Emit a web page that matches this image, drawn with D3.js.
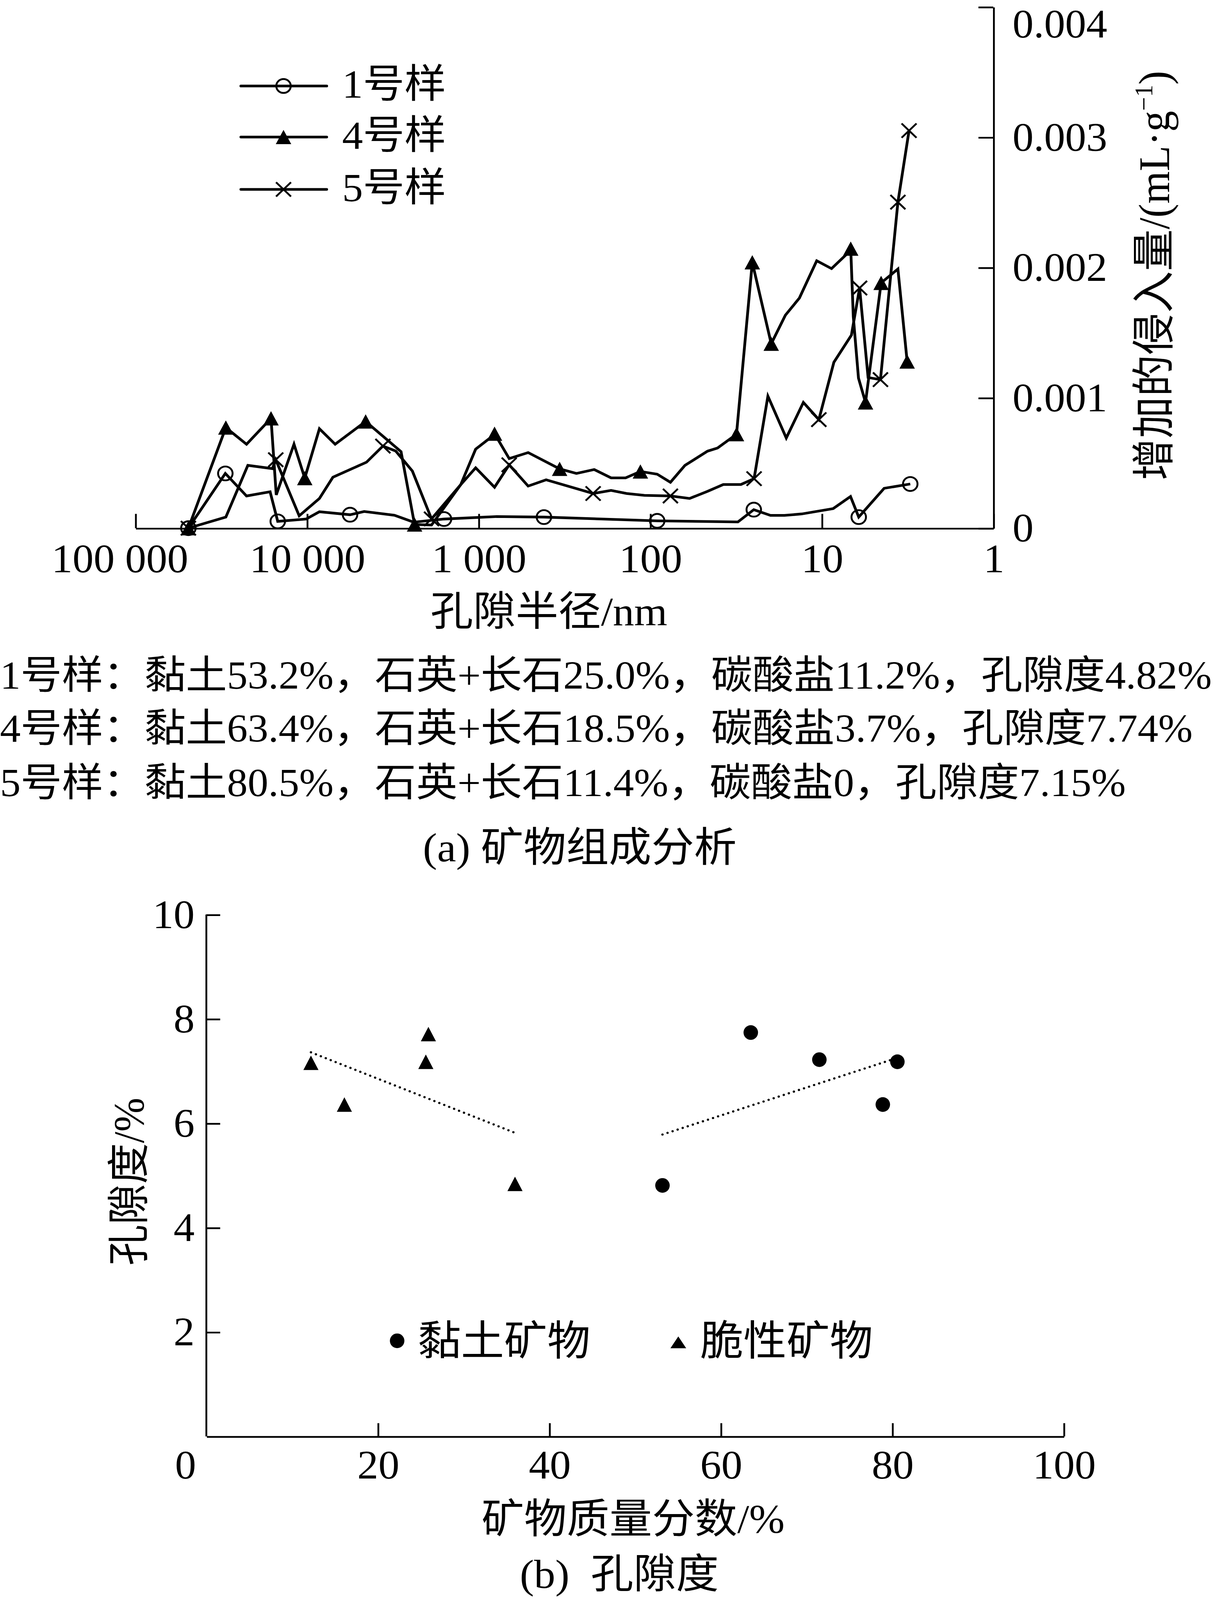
<!DOCTYPE html>
<html>
<head>
<meta charset="utf-8">
<script src="https://cdn.jsdelivr.net/npm/d3@7"></script>
<style>
  html, body { margin: 0; padding: 0; background: #fff; overflow: hidden; }
  #chart svg { display: block; width: 100vw; height: 100vh; }
  svg text { font-family: "Liberation Serif", "Noto Sans CJK SC", serif; fill: #000; }
</style>
</head>
<body>
<div id="chart"></div>
<script>
// (a) incremental intrusion vs pore radius
const sampleNames = ["1号样", "4号样", "5号样"];

const s1Radius = [49100, 29900, 22500, 16400, 14800, 10100, 8460, 5610, 4640, 3090, 2390, 1590, 784, 416, 91,
  30.8, 24.9, 19.9, 16.5, 13.1, 8.58, 6.80, 6.09, 4.33, 3.05];
const s1Value = [0, 0.00042, 0.000247, 0.000279, 0.000052, 0.00007, 0.000126, 0.000103, 0.000128, 0.000099,
  0.000046, 0.00007, 0.000089, 0.000085, 0.000056, 0.000048, 0.000142, 0.000098, 0.000098, 0.000109,
  0.00015, 0.000243, 0.000085, 0.000306, 0.000339];
const s1Marks = [0, 1, 4, 7, 11, 13, 14, 16, 22, 24];

const s4Radius = [49100, 29700, 22500, 16200, 15100, 11900, 10300, 8460, 6850, 4550, 2830, 2360, 1880, 1270,
  1040, 857, 807, 663, 514, 337, 269, 212, 169, 139, 114, 91, 76.2, 62.7, 46.3, 40.5, 31.4, 25.4, 19.7,
  16.3, 13.5, 10.7, 8.77, 7.25, 6.78, 6.55, 6.11, 5.56, 4.51, 3.60, 3.18];
const s4Value = [0, 0.000772, 0.000644, 0.000843, 0.000255, 0.000644, 0.000384, 0.000763, 0.000644, 0.000819,
  0.000587, 0.000028, 0.000024, 0.000334, 0.000606, 0.000692, 0.000725, 0.000534, 0.00058, 0.000455,
  0.00042, 0.00045, 0.000386, 0.000386, 0.000435, 0.000414, 0.000352, 0.000482, 0.000591, 0.000615,
  0.000721, 0.00204, 0.001415, 0.001634, 0.001766, 0.002052, 0.001992, 0.002096, 0.002145, 0.001623,
  0.001152, 0.000965, 0.001882, 0.001989, 0.001279];
const s4Marks = [0, 1, 3, 6, 9, 11, 16, 19, 24, 30, 31, 32, 38, 41, 42, 44];

const s5Radius = [49100, 29700, 22100, 15900, 15200, 11100, 8460, 7060, 4500, 3610, 3040, 2430, 1880, 1270,
  1040, 807, 663, 514, 404, 215, 169, 137, 108, 76.2, 58.9, 46.2, 37.5, 29.6, 24.8, 20.6, 16.1, 12.8,
  10.4, 8.50, 6.72, 6.02, 5.37, 4.55, 3.60, 3.10];
const s5Value = [0, 0.000085, 0.000482, 0.000457, 0.000525, 0.000095, 0.000228, 0.000391, 0.000506, 0.00063,
  0.000592, 0.000438, 0.000071, 0.000334, 0.000463, 0.000314, 0.000486, 0.000323, 0.000371, 0.000266,
  0.00029, 0.000266, 0.000252, 0.000247, 0.000228, 0.000283, 0.000335, 0.000335, 0.00038, 0.001013,
  0.000692, 0.000965, 0.000833, 0.001273, 0.001481, 0.001843, 0.001156, 0.00114, 0.002502, 0.003051];
const s5Marks = [0, 4, 9, 12, 16, 19, 23, 28, 32, 35, 37, 38, 39];

const radiusTicks = [100000, 10000, 1000, 100, 10, 1];
const radiusTickLabels = ["100 000", "10 000", "1 000", "100", "10", "1"];
const intrusionTicks = [0, 0.001, 0.002, 0.003, 0.004];
const intrusionTickLabels = ["0", "0.001", "0.002", "0.003", "0.004"];

const sampleNotes = [
  "1号样：黏土53.2%，石英+长石25.0%，碳酸盐11.2%，孔隙度4.82%",
  "4号样：黏土63.4%，石英+长石18.5%，碳酸盐3.7%，孔隙度7.74%",
  "5号样：黏土80.5%，石英+长石11.4%，碳酸盐0，孔隙度7.15%"
];

// (b) porosity vs mineral mass fraction
const clayFrac = [63.5, 71.5, 80.6, 78.9, 53.2];
const clayPoro = [7.74, 7.22, 7.18, 6.36, 4.81];
const brittleFrac = [25.9, 25.6, 12.2, 16.1, 36.0];
const brittlePoro = [7.71, 7.18, 7.16, 6.36, 4.84];
const fracTicks = [0, 20, 40, 60, 80, 100];
const poroTicks = [2, 4, 6, 8, 10];
const mineralNames = ["黏土矿物", "脆性矿物"];

// ---------------------------------------------------------------
const W = 1139, H = 1568;
const svg = d3.select("#chart").append("svg")
  .attr("viewBox", `0 0 ${W} ${H}`)
  .attr("preserveAspectRatio", "none");

const TICK_FS = 39.5;
const LINE_W = 2.6;

function tri(cx, cy, w, h) {
  return `M${cx},${cy - h / 2}L${cx + w / 2},${cy + h / 2}L${cx - w / 2},${cy + h / 2}Z`;
}

function marker(g, shape, cx, cy) {
  if (shape === "circle") {
    g.append("circle").attr("cx", cx).attr("cy", cy).attr("r", 6.8)
      .attr("fill", "none").attr("stroke", "#000").attr("stroke-width", 1.8);
  } else if (shape === "triangle") {
    g.append("path").attr("d", tri(cx, cy, 14.5, 14)).attr("fill", "#000");
  } else {
    const s = 7;
    g.append("path")
      .attr("d", `M${cx - s},${cy - s}L${cx + s},${cy + s}M${cx - s},${cy + s}L${cx + s},${cy - s}`)
      .attr("stroke", "#000").attr("stroke-width", 1.8);
  }
}

// ---------------- chart (a) ----------------
const x = d3.scaleLog().domain([1e5, 1]).range([127, 932]);
const y = d3.scaleLinear().domain([0, 0.004]).range([517.6, 6.8]);

const gx = svg.append("g")
  .attr("transform", `translate(0,${y(0)})`)
  .call(d3.axisBottom(x).tickValues(radiusTicks)
    .tickFormat((d, i) => radiusTickLabels[i])
    .tickSizeInner(-14).tickSizeOuter(0).tickPadding(15))
  .attr("font-size", TICK_FS).attr("stroke-width", 1.7);
gx.selectAll(".tick text").filter((d, i) => i === 0).attr("dx", -15);

const gy = svg.append("g")
  .attr("transform", `translate(${x(1)},0)`)
  .call(d3.axisRight(y).tickValues(intrusionTicks)
    .tickFormat((d, i) => intrusionTickLabels[i])
    .tickSizeInner(-14).tickSizeOuter(0).tickPadding(18))
  .attr("font-size", TICK_FS).attr("stroke-width", 1.7);
// keep the top label inside the page
gy.selectAll(".tick text").filter(d => d === 0.004).attr("y", 17);

const samples = [
  { radius: s1Radius, value: s1Value, marks: s1Marks, shape: "circle" },
  { radius: s4Radius, value: s4Value, marks: s4Marks, shape: "triangle" },
  { radius: s5Radius, value: s5Value, marks: s5Marks, shape: "cross" }
];

const line = d3.line().x(d => x(d[0])).y(d => y(d[1]));
const plot = svg.append("g");
samples.forEach(s => {
  const pts = s.radius.map((r, i) => [r, s.value[i]]);
  plot.append("path").attr("d", line(pts))
    .attr("fill", "none").attr("stroke", "#000").attr("stroke-width", LINE_W)
    .attr("stroke-linejoin", "miter");
  s.marks.forEach(i => marker(plot, s.shape, x(pts[i][0]), y(pts[i][1])));
});

// legend
const legendRowY = [84.3, 134.3, 185.6];
samples.forEach((s, i) => {
  const ly = legendRowY[i];
  svg.append("line").attr("x1", 226).attr("x2", 306.5).attr("y1", ly).attr("y2", ly)
    .attr("stroke", "#000").attr("stroke-width", LINE_W).attr("stroke-linecap", "round");
  marker(svg, s.shape, 266, ly);
  svg.append("text").attr("x", 321).attr("y", ly + 11.5)
    .attr("font-size", 39).text(sampleNames[i]);
});

svg.append("text").attr("x", 515).attr("y", 613)
  .attr("text-anchor", "middle").attr("font-size", 40).text("孔隙半径/nm");

const yTitle = svg.append("text")
  .attr("transform", "translate(1097,270) rotate(-90)")
  .attr("text-anchor", "middle").attr("font-size", 41);
yTitle.append("tspan").text("增加的侵入量/(mL·g");
yTitle.append("tspan").attr("font-size", 24).attr("dy", -16).text("−1");
yTitle.append("tspan").attr("dy", 16).text(")");

// sample notes
const noteG = svg.append("g").attr("font-size", 40);
const noteBase = [675, 727, 780];
const notes = noteG.selectAll("text").data(sampleNotes).join("text")
  .attr("x", 0).attr("y", (d, i) => noteBase[i]).text(d => d);
const len1 = notes.node().getComputedTextLength();
if (len1 > 0) noteG.attr("font-size", 40 * 1137 / len1);

svg.append("text").attr("x", 544).attr("y", 844)
  .attr("text-anchor", "middle").attr("font-size", 40).text("(a) 矿物组成分析");

// ---------------- chart (b) ----------------
const bx = d3.scaleLinear().domain([0, 100]).range([193.6, 998]);
const by = d3.scaleLinear().domain([0, 10]).range([1407.7, 896.3]);

const bgx = svg.append("g")
  .attr("transform", `translate(0,${by(0)})`)
  .call(d3.axisBottom(bx).tickValues(fracTicks).tickFormat(d3.format("d"))
    .tickSizeInner(-13).tickSizeOuter(0).tickPadding(13.3))
  .attr("font-size", TICK_FS).attr("stroke-width", 1.7);
bgx.selectAll(".tick text").filter(d => d === 0).attr("dx", -20);
bgx.selectAll(".tick line").filter(d => d === 0).remove();

const bgy = svg.append("g")
  .attr("transform", `translate(${bx(0)},0)`)
  .call(d3.axisLeft(by).tickValues(poroTicks).tickFormat(d3.format("d"))
    .tickSizeInner(-13).tickSizeOuter(0).tickPadding(11))
  .attr("font-size", TICK_FS).attr("stroke-width", 1.7);
bgy.select(".domain").attr("d", `M0,${by(10)}V${by(0)}`);

function fit(xs, ys) {
  const mx = d3.mean(xs), my = d3.mean(ys);
  const sxy = d3.sum(xs, (v, i) => (v - mx) * (ys[i] - my));
  const sxx = d3.sum(xs, v => (v - mx) * (v - mx));
  const k = sxy / sxx, b = my - k * mx;
  const [x0, x1] = d3.extent(xs);
  return [[x0, k * x0 + b], [x1, k * x1 + b]];
}

const bline = d3.line().x(d => bx(d[0])).y(d => by(d[1]));
[fit(brittleFrac, brittlePoro), fit(clayFrac, clayPoro)].forEach(seg => {
  svg.append("path").attr("d", bline(seg))
    .attr("fill", "none").attr("stroke", "#000").attr("stroke-width", 2.2)
    .attr("stroke-linecap", "round").attr("stroke-dasharray", "0.01 5");
});

const scat = svg.append("g");
brittleFrac.forEach((v, i) => {
  scat.append("path").attr("d", tri(bx(v), by(brittlePoro[i]), 14.2, 14.2)).attr("fill", "#000");
});
clayFrac.forEach((v, i) => {
  scat.append("ellipse").attr("cx", bx(v)).attr("cy", by(clayPoro[i]))
    .attr("rx", 6.8).attr("ry", 7.2).attr("fill", "#000");
});

// legend (b)
svg.append("ellipse").attr("cx", 372.6).attr("cy", 1314).attr("rx", 6.8).attr("ry", 7.2).attr("fill", "#000");
svg.append("text").attr("x", 392).attr("y", 1328).attr("font-size", 40.5).text(mineralNames[0]);
svg.append("path").attr("d", tri(636.4, 1315.5, 14.8, 11.6)).attr("fill", "#000");
svg.append("text").attr("x", 657).attr("y", 1328).attr("font-size", 40.5).text(mineralNames[1]);

svg.append("text")
  .attr("transform", "translate(135,1158) rotate(-90)")
  .attr("text-anchor", "middle").attr("font-size", 40).text("孔隙度/%");

svg.append("text").attr("x", 594).attr("y", 1502)
  .attr("text-anchor", "middle").attr("font-size", 40).text("矿物质量分数/%");

svg.append("text").attr("x", 581).attr("y", 1556)
  .attr("text-anchor", "middle").attr("font-size", 40).text("(b)\u00a0\u00a0孔隙度");
</script>
</body>
</html>
